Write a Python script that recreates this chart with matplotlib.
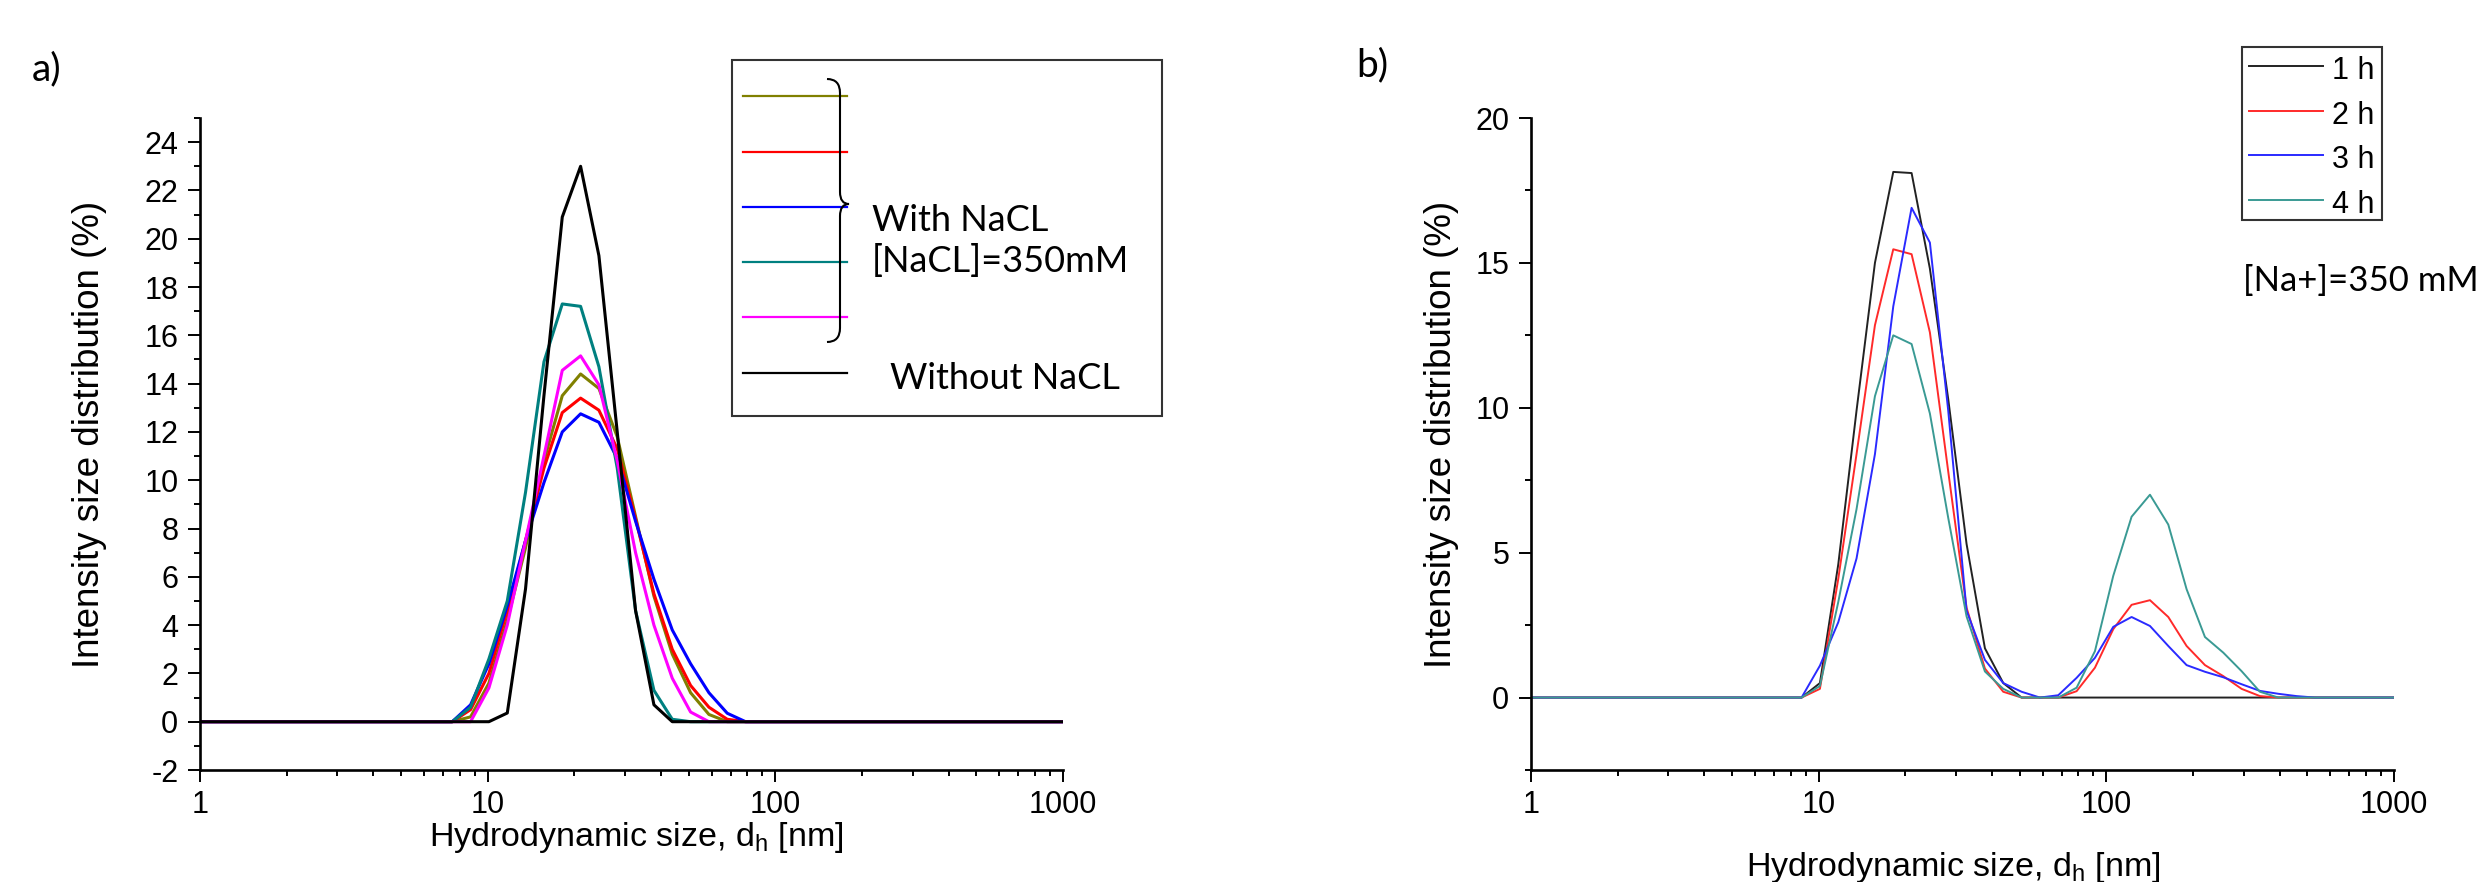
import matplotlib
matplotlib.use("Agg")
import matplotlib.pyplot as plt
from matplotlib import ticker
from matplotlib.lines import Line2D
from matplotlib.patches import Rectangle, PathPatch
from matplotlib.path import Path

plt.rcParams['font.family'] = ['Liberation Sans Narrow', 'Liberation Sans', 'DejaVu Sans']
plt.rcParams['axes.unicode_minus'] = False
plt.rcParams['mathtext.fontset'] = 'custom'
plt.rcParams['mathtext.rm'] = 'Liberation Sans'
plt.rcParams['mathtext.default'] = 'rm'

# ------------------ data: panel a (with / without NaCl) ------------------
size_a = [0.9649, 6.503, 7.531, 8.721, 10.10, 11.70, 13.54, 15.69, 18.17, 21.04,
          24.36, 28.21, 32.67, 37.84, 43.82, 50.75, 58.77, 68.06, 78.82, 91.28, 1106]
olive_a = [0, 0, 0, 0.2, 1.6, 4.2, 7.2, 10.8, 13.5, 14.4, 13.8, 11.8, 8.5, 5.2, 2.8, 1.2, 0.3, 0, 0, 0, 0]
red_a = [0, 0, 0, 0.5, 2.0, 4.6, 7.5, 10.5, 12.8, 13.4, 12.9, 11.3, 8.4, 5.3, 3.0, 1.5, 0.6, 0.1, 0, 0, 0]
blue_a = [0, 0, 0, 0.7, 2.4, 4.8, 7.5, 9.9, 12.0, 12.75, 12.4, 10.9, 8.3, 5.9, 3.8, 2.4, 1.2, 0.35, 0, 0, 0]
teal_a = [0, 0, 0, 0.6, 2.6, 5.0, 9.5, 14.9, 17.3, 17.2, 14.7, 10.5, 4.6, 1.3, 0.1, 0, 0, 0, 0, 0, 0]
magenta_a = [0, 0, 0, 0, 1.4, 4.0, 7.5, 11.0, 14.55, 15.15, 13.95, 10.8, 7.0, 4.0, 1.8, 0.4, 0, 0, 0, 0, 0]
black_a = [0, 0, 0, 0, 0, 0.36, 5.5, 13.5, 20.9, 23.0, 19.3, 12.0, 4.6, 0.7, 0, 0, 0, 0, 0, 0, 0]

# ------------------ data: panel b (time series) ------------------
size_b = [0.9649, 7.531, 8.721, 10.10, 11.70, 13.54, 15.69, 18.17, 21.04, 24.36, 28.21,
          32.67, 37.84, 43.82, 50.75, 58.77, 68.06, 78.82, 91.28, 105.7, 122.4, 141.8,
          164.2, 190.1, 220.2, 255.0, 295.3, 342.0, 396.1, 458.7, 531.2, 1106]
h1 = [0, 0, 0, 0.5, 4.6, 9.9, 15.0, 18.14, 18.1, 14.8, 10.3, 5.3, 1.7, 0.5, 0, 0,
      0, 0, 0, 0, 0, 0, 0, 0, 0, 0, 0, 0, 0, 0, 0, 0]
h2 = [0, 0, 0, 0.3, 4.1, 8.4, 12.85, 15.47, 15.3, 12.6, 7.8, 3.1, 1.0, 0.2, 0, 0,
      0, 0.22, 1.03, 2.36, 3.2, 3.36, 2.78, 1.78, 1.12, 0.74, 0.3, 0.05, 0, 0, 0, 0]
h3 = [0, 0, 0, 1.1, 2.6, 4.8, 8.4, 13.5, 16.9, 15.7, 9.9, 3.0, 1.3, 0.5, 0.2, 0,
      0.08, 0.68, 1.37, 2.44, 2.78, 2.47, 1.78, 1.12, 0.89, 0.7, 0.46, 0.23, 0.13, 0.05, 0, 0]
h4 = [0, 0, 0, 0.4, 3.3, 6.5, 10.4, 12.5, 12.2, 9.8, 6.2, 2.8, 0.9, 0.3, 0, 0,
      0, 0.34, 1.6, 4.2, 6.24, 7.0, 5.97, 3.74, 2.09, 1.55, 0.91, 0.2, 0, 0, 0, 0]

xticks = [1, 10, 100, 1000]
xticklabels = ['1', '10', '100', '1000']
time_labels = ['1 h', '2 h', '3 h', '4 h']

W, H = 2481, 882


def fx(px):
    return px / W


def fy(py):
    return 1 - py / H


fig = plt.figure(figsize=(W / 100, H / 100), dpi=100)
axA = fig.add_axes([fx(200), fy(770), 863 / W, 652 / H])
axB = fig.add_axes([fx(1531), fy(770), 863 / W, 652 / H])

colors_a = ['#808000', '#ff0000', '#0000ff', '#008080', '#ff00ff', 'black']
for ys, c in zip([olive_a, red_a, blue_a, teal_a, magenta_a, black_a], colors_a):
    axA.plot(size_a, ys, color=c, lw=2.2)

colors_b = ['#222222', '#ff2a2a', '#2a2aff', '#3a9a94']
for ys, c in zip([h1, h2, h3, h4], colors_b):
    axB.plot(size_b, ys, color=c, lw=1.4)

for ax in (axA, axB):
    ax.set_xscale('log')
    ax.set_xlim(1, 1000)
    ax.xaxis.set_major_locator(ticker.FixedLocator(xticks))
    ax.xaxis.set_major_formatter(ticker.FixedFormatter(xticklabels))
    ax.xaxis.set_minor_locator(ticker.LogLocator(base=10, subs=range(2, 10)))
    ax.xaxis.set_minor_formatter(ticker.NullFormatter())
    for s in ('top', 'right'):
        ax.spines[s].set_visible(False)
    for s in ('left', 'bottom'):
        ax.spines[s].set_linewidth(1.9)
    ax.tick_params(which='major', direction='out', length=8.6, width=1.4,
                   labelsize=22, pad=7)
    ax.tick_params(which='minor', direction='out', length=4, width=1.4)
    ax.tick_params(axis='x', which='major', pad=6)
    ax.set_ylabel('Intensity size distribution (%)', family='Liberation Sans',
                  size=26.5, va='center', ha='center')

axA.yaxis.set_label_coords(-0.128, 0.514)
axB.yaxis.set_label_coords(-0.104, 0.514)

axA.set_ylim(-2, 25)
axA.yaxis.set_major_locator(ticker.MultipleLocator(2))
axA.yaxis.set_minor_locator(ticker.MultipleLocator(1))
axB.set_ylim(-2.5, 20)
axB.yaxis.set_major_locator(ticker.MultipleLocator(5))
axB.yaxis.set_minor_locator(ticker.MultipleLocator(2.5))

axA.set_xlabel('Hydrodynamic size, d$_{h}$ [nm]', family='Liberation Sans', size=24.5, va='center')
axA.xaxis.set_label_coords(0.505, -0.103)
axB.set_xlabel('Hydrodynamic size, d$_{h}$ [nm]', family='Liberation Sans', size=24.5, va='center')
axB.xaxis.set_label_coords(0.489, -0.150)

# ------------------ legend panel a ------------------
hand_a = [Line2D([], [], color=c, lw=1.6) for c in colors_a]
axA.legend(hand_a, ['', '', '', '', '', 'Without NaCL'], loc='upper left',
           bbox_to_anchor=(fx(743), fy(80.6)), bbox_transform=fig.transFigure,
           frameon=False, borderpad=0, borderaxespad=0, handlelength=2.88,
           handleheight=1.3, labelspacing=0.44, handletextpad=1.2,
           prop={'family': 'Lato', 'size': 26})
fig.add_artist(Rectangle((fx(731.7), fy(416)), 430 / W, 356 / H, transform=fig.transFigure,
                         fill=False, ec='#333333', lw=1.5))
brace = Path([(827, 79), (840, 79), (840, 93), (840, 192), (840, 204), (849, 204),
              (840, 204), (840, 216), (840, 328), (840, 342), (827, 342)],
             [Path.MOVETO, Path.CURVE3, Path.CURVE3, Path.LINETO, Path.CURVE3, Path.CURVE3,
              Path.CURVE3, Path.CURVE3, Path.LINETO, Path.CURVE3, Path.CURVE3])
brace = Path([(fx(x), fy(y)) for x, y in brace.vertices], brace.codes)
fig.add_artist(PathPatch(brace, transform=fig.transFigure, fill=False, ec='black', lw=1.5))
fig.text(fx(871.7), fy(231), 'With NaCL', va='baseline', family='Lato', size=26)
fig.text(fx(871.7), fy(272), '[NaCL]=350mM', va='baseline', family='Lato', size=26)

# ------------------ legend panel b ------------------
hand_b = [Line2D([], [], color=c, lw=1.4) for c in colors_b]
axB.legend(hand_b, time_labels, loc='upper left',
           bbox_to_anchor=(fx(2249), fy(53.3)), bbox_transform=fig.transFigure,
           frameon=False, borderpad=0, borderaxespad=0, handlelength=2.42,
           handleheight=1.2, labelspacing=0.38, handletextpad=0.28,
           prop={'family': 'Liberation Sans', 'size': 22})
fig.add_artist(Rectangle((fx(2241.7), fy(220)), 140 / W, 173.3 / H, transform=fig.transFigure,
                         fill=False, ec='#333333', lw=1.5))
fig.text(fx(2243), fy(291), '[Na+]=350 mM', va='baseline', family='Lato', size=25)

fig.text(fx(32), fy(69), 'a)', va='center', family='Lato', size=28)
fig.text(fx(1356), fy(65), 'b)', va='center', family='Lato', size=28)

fig.savefig('out.png', dpi=100)
